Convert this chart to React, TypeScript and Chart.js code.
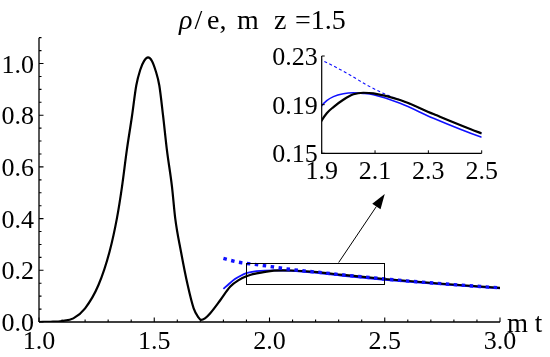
import React, { useEffect, useRef } from "react";
import { Chart, registerables } from "chart.js";

Chart.register(...registerables);

// ---- data ----
const blackT = [1.0, 1.05, 1.1, 1.149, 1.2, 1.258, 1.306, 1.338, 1.36, 1.381, 1.403, 1.422, 1.439, 1.456, 1.473, 1.49, 1.506, 1.522, 1.538, 1.555, 1.577, 1.591, 1.616, 1.645, 1.671, 1.69, 1.703, 1.72, 1.743, 1.787, 1.83, 1.87, 1.9, 1.919, 1.944, 1.981, 2.019, 2.056, 2.094, 2.194, 2.319, 2.5, 2.75, 3.0];
const blackV = [0, 0.001, 0.004, 0.014, 0.053, 0.143, 0.272, 0.401, 0.523, 0.665, 0.794, 0.915, 0.975, 1.01, 1.024, 1.01, 0.972, 0.915, 0.8, 0.665, 0.523, 0.401, 0.272, 0.143, 0.053, 0.02, 0.008, 0.014, 0.034, 0.085, 0.137, 0.164, 0.177, 0.183, 0.188, 0.194, 0.1985, 0.1998, 0.1993, 0.1938, 0.1823, 0.1664, 0.148, 0.132];

const blueT = [1.8, 1.825, 1.85, 1.875, 1.9, 1.919, 1.944, 1.981, 2.019, 2.056, 2.094, 2.194, 2.319, 2.5, 2.75, 3.0];
const blueV = [0.128, 0.148, 0.166, 0.179, 0.189, 0.1933, 0.1966, 0.199, 0.1998, 0.1993, 0.1982, 0.1911, 0.1788, 0.1631, 0.1455, 0.13];

const dashT = [1.8, 1.838, 1.874, 1.9, 1.944, 2.006, 2.069, 2.131, 2.194, 2.319, 2.5, 2.75, 3.0];
const dashV = [0.246, 0.237, 0.23, 0.2267, 0.2218, 0.2144, 0.2062, 0.1993, 0.1938, 0.1823, 0.1664, 0.148, 0.132];

// axes
const mainX = [1.0, 3.0];
const mainY = [0, 1.1];
const xTicks = [1.0, 1.5, 2.0, 2.5, 3.0];
const xTickLabels = ["1.0", "1.5", "2.0", "2.5", "3.0"];
const yTicks = [0, 0.2, 0.4, 0.6, 0.8, 1.0];
const yTickLabels = ["0.0", "0.2", "0.4", "0.6", "0.8", "1.0"];
const xMinorStep = 0.1;
const yMinorStep = 0.05;

const insetX = [1.9, 2.5];
const insetY = [0.15, 0.23];
const insetXTicks = [1.9, 2.1, 2.3, 2.5];
const insetXTickLabels = ["1.9", "2.1", "2.3", "2.5"];
const insetYTicks = [0.15, 0.19, 0.23];
const insetYTickLabels = ["0.15", "0.19", "0.23"];

const arrowFrom = [2.3, 0.23];
const arrowTo = [2.5, 0.495];

const titleRho = "ρ";
const titleParts = ["/", "e,", "m", "z", "=1.5"];
const titlePartX = [194.5, 207, 237, 274, 295];
const xAxisLabel = "m t";

const SERIF = '"Liberation Serif"';
const BLUE = "#1010ff";

const W = 550;
const H = 357;

function pts(t: number[], v: number[]) {
  return t.map((x, i) => ({ x, y: v[i] }));
}

const mainPlugin = {
  id: "mainDeco",
  beforeDatasetsDraw(chart: any) {
    const ctx = chart.ctx;
    const xs = chart.scales.x;
    const ys = chart.scales.y;
    const x0 = xs.getPixelForValue(mainX[0]);
    const x1 = xs.getPixelForValue(mainX[1]);
    const y0 = ys.getPixelForValue(mainY[0]);
    const y1 = ys.getPixelForValue(mainY[1]);
    ctx.save();
    ctx.strokeStyle = "#000";
    ctx.lineWidth = 1.3;
    ctx.beginPath();
    ctx.moveTo(x0, y0);
    ctx.lineTo(x1, y0);
    ctx.moveTo(x0, y0);
    ctx.lineTo(x0, y1);
    ctx.stroke();
    ctx.lineWidth = 1.1;
    ctx.beginPath();
    for (let v = mainX[0]; v <= mainX[1] + 1e-9; v += xMinorStep) {
      const p = xs.getPixelForValue(v);
      const major = xTicks.some((t) => Math.abs(t - v) < 1e-6);
      ctx.moveTo(p, y0);
      ctx.lineTo(p, y0 - (major ? 4.5 : 2.5));
    }
    for (let v = mainY[0]; v <= mainY[1] + 1e-9; v += yMinorStep) {
      const p = ys.getPixelForValue(v);
      const major = yTicks.some((t) => Math.abs(t - v) < 1e-6);
      ctx.moveTo(x0, p);
      ctx.lineTo(x0 + (major ? 4.5 : 2.5), p);
    }
    ctx.stroke();
    ctx.fillStyle = "#000";
    ctx.font = `26px ${SERIF}`;
    ctx.textBaseline = "alphabetic";
    ctx.textAlign = "center";
    xTicks.forEach((t, i) => {
      ctx.fillText(xTickLabels[i], xs.getPixelForValue(t), y0 + 27);
    });
    ctx.textAlign = "right";
    yTicks.forEach((t, i) => {
      ctx.fillText(yTickLabels[i], x0 - 5, ys.getPixelForValue(t) + 9);
    });
    ctx.textAlign = "left";
    ctx.font = `27px ${SERIF}`;
    ctx.fillText(xAxisLabel, x1 + 7, y0 + 10);
    ctx.font = `italic 28px ${SERIF}`;
    ctx.fillText(titleRho, 179, 28.5);
    ctx.font = `28px ${SERIF}`;
    titleParts.forEach((s, i) => ctx.fillText(s, titlePartX[i], 28.5));
    ctx.restore();
  },
  afterDatasetsDraw(chart: any) {
    const ctx = chart.ctx;
    const xs = chart.scales.x;
    const ys = chart.scales.y;
    ctx.save();
    ctx.strokeStyle = "#000";
    ctx.lineWidth = 1;
    const rx0 = xs.getPixelForValue(insetX[0]);
    const rx1 = xs.getPixelForValue(insetX[1]);
    const ry0 = ys.getPixelForValue(insetY[0]);
    const ry1 = ys.getPixelForValue(insetY[1]);
    ctx.strokeRect(Math.round(rx0) + 0.5, Math.round(ry1) + 0.5, Math.round(rx1 - rx0), Math.round(ry0 - ry1));
    const ax0 = xs.getPixelForValue(arrowFrom[0]);
    const ay0 = ys.getPixelForValue(arrowFrom[1]);
    const ax1 = xs.getPixelForValue(arrowTo[0]);
    const ay1 = ys.getPixelForValue(arrowTo[1]);
    const ang = Math.atan2(ay1 - ay0, ax1 - ax0);
    const hl = 15;
    const hw = 5;
    const bx = ax1 - hl * Math.cos(ang);
    const by = ay1 - hl * Math.sin(ang);
    ctx.beginPath();
    ctx.moveTo(ax0, ay0);
    ctx.lineTo(bx, by);
    ctx.stroke();
    ctx.fillStyle = "#000";
    ctx.beginPath();
    ctx.moveTo(ax1, ay1);
    ctx.lineTo(bx + hw * Math.sin(ang), by - hw * Math.cos(ang));
    ctx.lineTo(bx - hw * Math.sin(ang), by + hw * Math.cos(ang));
    ctx.closePath();
    ctx.fill();
    ctx.restore();
  },
};

const insetPlugin = {
  id: "insetDeco",
  afterDatasetsDraw(chart: any) {
    const ctx = chart.ctx;
    const xs = chart.scales.x;
    const ys = chart.scales.y;
    const x0 = xs.getPixelForValue(insetX[0]);
    const x1 = xs.getPixelForValue(insetX[1]);
    const y0 = ys.getPixelForValue(insetY[0]);
    const y1 = ys.getPixelForValue(insetY[1]);
    ctx.save();
    ctx.strokeStyle = "#000";
    ctx.lineWidth = 1.2;
    ctx.beginPath();
    ctx.moveTo(x0, y1);
    ctx.lineTo(x0, y0);
    ctx.lineTo(x1, y0);
    ctx.stroke();
    ctx.lineWidth = 1;
    ctx.beginPath();
    insetXTicks.forEach((t) => {
      const p = xs.getPixelForValue(t);
      ctx.moveTo(p, y0);
      ctx.lineTo(p, y0 - 3);
    });
    insetYTicks.forEach((t) => {
      const p = ys.getPixelForValue(t);
      ctx.moveTo(x0, p);
      ctx.lineTo(x0 + 3, p);
    });
    ctx.stroke();
    ctx.fillStyle = "#000";
    ctx.font = `26px ${SERIF}`;
    ctx.textAlign = "center";
    ctx.textBaseline = "alphabetic";
    insetXTicks.forEach((t, i) => {
      ctx.fillText(insetXTickLabels[i], xs.getPixelForValue(t), y0 + 26);
    });
    ctx.textAlign = "right";
    insetYTicks.forEach((t, i) => {
      ctx.fillText(insetYTickLabels[i], x0 - 4, ys.getPixelForValue(t) + 9);
    });
    ctx.restore();
  },
};

function baseScales(xr: number[], yr: number[]) {
  return {
    x: { type: "linear" as const, min: xr[0], max: xr[1], display: false },
    y: { type: "linear" as const, min: yr[0], max: yr[1], display: false },
  };
}

export default function App() {
  const mainRef = useRef<HTMLCanvasElement>(null);
  const insetRef = useRef<HTMLCanvasElement>(null);

  useEffect(() => {
    const common = {
      showLine: true,
      pointRadius: 0,
      pointHoverRadius: 0,
      cubicInterpolationMode: "monotone" as const,
      fill: false,
    };
    const main = new Chart(mainRef.current!, {
      type: "scatter",
      data: {
        datasets: [
          { ...common, data: pts(dashT, dashV), borderColor: BLUE, borderWidth: 3.4, borderDash: [3.5, 4.5], order: 1 },
          { ...common, data: pts(blackT, blackV), borderColor: "#000", borderWidth: 2.2, order: 2 },
          { ...common, data: pts(blueT, blueV), borderColor: BLUE, borderWidth: 1.8, order: 3 },
        ],
      },
      options: {
        responsive: false,
        animation: false,
        events: [],
        layout: { padding: { left: 39, top: 37.65, right: 50, bottom: 35 } },
        scales: baseScales(mainX, mainY),
        plugins: { legend: { display: false }, tooltip: { enabled: false }, title: { display: false } },
      },
      plugins: [mainPlugin],
    });
    const inset = new Chart(insetRef.current!, {
      type: "scatter",
      data: {
        datasets: [
          { ...common, data: pts(blackT, blackV), borderColor: "#000", borderWidth: 2.2, order: 1 },
          { ...common, data: pts(blueT, blueV), borderColor: BLUE, borderWidth: 1.6, order: 2 },
          { ...common, data: pts(dashT, dashV), borderColor: BLUE, borderWidth: 1.1, borderDash: [3, 2.5], order: 3 },
        ],
      },
      options: {
        responsive: false,
        animation: false,
        events: [],
        layout: { padding: { left: 321.7, top: 56, right: 68.3, bottom: 203.7 } },
        scales: baseScales(insetX, insetY),
        plugins: { legend: { display: false }, tooltip: { enabled: false }, title: { display: false } },
      },
      plugins: [insetPlugin],
    });
    let alive = true;
    const fonts = (document as any).fonts;
    if (fonts && fonts.load) {
      Promise.all([
        fonts.load(`26px ${SERIF}`),
        fonts.load(`italic 28px ${SERIF}`),
      ])
        .catch(() => null)
        .then(() => {
          if (!alive) return;
          main.render();
          inset.render();
        });
    }
    return () => {
      alive = false;
      main.destroy();
      inset.destroy();
    };
  }, []);

  return (
    <div style={{ position: "fixed", left: 0, top: 0, width: W, height: H, background: "#fff", fontFamily: SERIF }}>
      <span style={{ position: "absolute", left: -9999, fontFamily: SERIF }}>0.</span>
      <span style={{ position: "absolute", left: -9999, fontFamily: SERIF, fontStyle: "italic" }}>ρ</span>
      <canvas ref={mainRef} width={W} height={H} style={{ position: "absolute", left: 0, top: 0, width: W, height: H }} />
      <canvas ref={insetRef} width={W} height={H} style={{ position: "absolute", left: 0, top: 0, width: W, height: H }} />
    </div>
  );
}
